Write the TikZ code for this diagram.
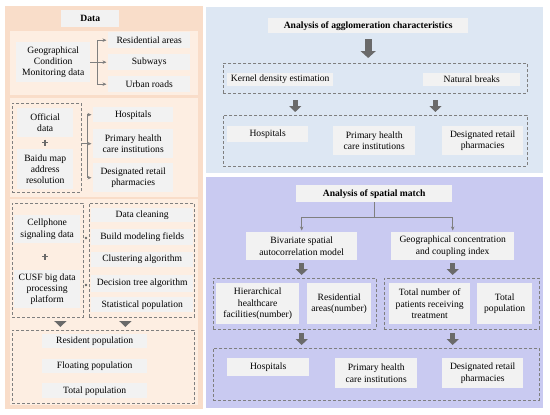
\documentclass[tikz,border=0pt]{standalone}
\usepackage{fontspec}
\setmainfont{Liberation Serif}
\usetikzlibrary{arrows.meta,calc}

\definecolor{peachout}{HTML}{F9DDC9}
\definecolor{peachin}{HTML}{FDEEE2}
\definecolor{boxgray}{HTML}{F2F2F2}
\definecolor{panelblue}{HTML}{DDE7F3}
\definecolor{panellav}{HTML}{C9CAF1}
\definecolor{linegray}{HTML}{7F7F7F}
\definecolor{arrgray}{HTML}{6A6A6A}

\tikzset{
  sz/.style 2 args={minimum width=#1pt, minimum height=#2pt},
  gbox/.style={fill=boxgray, anchor=north west, align=center, inner sep=0pt,
    font=\fontsize{9.6}{11.3}\selectfont},
  dashbox/.style={draw=linegray, dash pattern=on 3pt off 2pt, line width=0.8pt,
    anchor=north west, inner sep=0pt},
  arr/.style={draw=linegray, line width=0.6pt, shorten >=1.5pt,
    -{Stealth[length=4pt,width=3.5pt]}},
  bigarr/.style={draw=arrgray, line width=5pt, shorten <=3pt, shorten >=3pt,
    -{Triangle[length=6pt,width=12pt]}},
  plusmark/.style={draw=arrgray, line width=1.8pt},
  dot/.style={circle, fill=arrgray, inner sep=0pt, minimum size=2.6pt},
}

\begin{document}
\begin{tikzpicture}[x=1pt, y=-1pt]
  \useasboundingbox (0,0) rectangle (550,415);

  % Panels
  \fill[peachout] (5,6) rectangle (203,409);
  \fill[peachin] (10,31) rectangle (198,95);
  \fill[peachin] (10,98) rectangle (198,197);
  \fill[peachin] (10,199) rectangle (198,405);
  \fill[panelblue] (206,7) rectangle (543,173);
  \fill[panellav] (206,177) rectangle (543,408);

  % Data
  \node[gbox, sz={58}{17}, font=\bfseries\fontsize{9.6}{11}\selectfont] (data) at (61,10) {Data};

  % Geographical condition data
  \node[gbox, sz={74}{40}] (gcm) at (16,42) {Geographical\\Condition\\Monitoring data};
  \node[gbox, sz={82}{16}] (res) at (108,32) {Residential areas};
  \node[gbox, sz={82}{16}] (sub) at (108,54) {Subways};
  \node[gbox, sz={82}{16}] (road) at (108,76) {Urban roads};
  \draw[arr] (gcm.east) -- (sub.west);
  \coordinate (b1) at ($(gcm.east)+(7,0)$);
  \draw[arr] (b1) |- (res.west);
  \draw[arr] (b1) |- (road.west);

  % Official data
  \node[dashbox, sz={69}{89}] (dOff) at (12,103) {};
  \node[gbox, sz={56}{29}] (off) at (17,108) {Official\\data};
  \coordinate (plus1) at (45,142.5);
  \draw[plusmark] ($(plus1)+(-3,0)$) -- ++(6,0) ($(plus1)+(0,-3)$) -- ++(0,6);
  \node[gbox, sz={56}{40}] (baidu) at (17,149) {Baidu map\\address\\resolution};
  \node[gbox, sz={80}{15}] (hosp1) at (93,107) {Hospitals};
  \node[gbox, sz={80}{29}] (phc1) at (93,129) {Primary health\\care institutions};
  \node[gbox, sz={80}{29}] (drp1) at (93,163) {Designated retail\\pharmacies};
  \draw[arr] (dOff.east |- phc1.west) -- (phc1.west);
  \coordinate (b2) at ($(dOff.east |- phc1.west)+(5,0)$);
  \draw[arr] (b2) |- (hosp1.west);
  \draw[arr] (b2) |- (drp1.west);

  % Cellphone signaling data
  \node[dashbox, sz={71}{114}] (dA) at (12,203) {};
  \node[gbox, sz={66}{28}] (cell) at (14,215) {Cellphone\\signaling data};
  \coordinate (plus2) at (45,256.5);
  \draw[plusmark] ($(plus2)+(-3,0)$) -- ++(6,0) ($(plus2)+(0,-3)$) -- ++(0,6);
  \node[gbox, sz={66}{38}] (cusf) at (14,270) {CUSF big data\\processing\\platform};
  \node[dashbox, sz={105}{114}] (dB) at (89,203) {};
  \node[gbox, sz={102}{14}] (clean) at (91,208) {Data cleaning};
  \node[gbox, sz={102}{16}] (build) at (91,229) {Build modeling fields};
  \node[gbox, sz={102}{15}] (clust) at (91,252) {Clustering algorithm};
  \node[gbox, sz={102}{17}] (dtree) at (91,275) {Decision tree algorithm};
  \node[gbox, sz={102}{15}] (stat) at (91,297) {Statistical population};
  \node[dot] (m1) at (86,238) {};
  \node[dot] (m2) at (86,285) {};

  % Population
  \node[dashbox, sz={182}{73}] (dC) at (12,330) {};
  \node[gbox, sz={105}{14}] (resid) at (42,334) {Resident population};
  \node[gbox, sz={105}{14}] (float) at (42,359) {Floating population};
  \node[gbox, sz={105}{15}] (total) at (42,383) {Total population};
  \draw[bigarr] ([xshift=12.5pt]dA.south) -- ([xshift=12.5pt]dA.south |- dC.north);
  \draw[bigarr] ([xshift=-16.5pt]dB.south) -- ([xshift=-16.5pt]dB.south |- dC.north);

  % Analysis of agglomeration characteristics
  \node[gbox, sz={200}{15}, font=\bfseries\fontsize{9.6}{11}\selectfont] (t1) at (268,18)
    {Analysis of agglomeration characteristics};
  \node[dashbox, sz={304}{30}] (dD) at (223,63) {};
  \node[gbox, sz={106}{13}] (kde) at (227,73) {Kernel density estimation};
  \node[gbox, sz={97}{13}] (nb) at (423,73) {Natural breaks};
  \draw[bigarr, line width=7pt, shorten <=6pt, shorten >=5pt,
    -{Triangle[length=7pt,width=15pt]}] (t1.south) -- (t1.south |- dD.north);
  \node[dashbox, sz={304}{51}] (dE) at (223,115) {};
  \node[gbox, sz={81}{16}] (hosp2) at (227,126) {Hospitals};
  \node[gbox, sz={82}{29}] (phc2) at (333,126) {Primary health\\care institutions};
  \node[gbox, sz={81}{29}] (drp2) at (442,126) {Designated retail\\pharmacies};
  \coordinate (a1) at ($(dD.south west)!0.237!(dD.south east)$);
  \coordinate (a2) at ($(dD.south west)!0.697!(dD.south east)$);
  \draw[bigarr, shorten <=6pt] (a1) -- (a1 |- dE.north);
  \draw[bigarr, shorten <=6pt] (a2) -- (a2 |- dE.north);

  % Analysis of spatial match
  \node[gbox, sz={156}{17}, font=\bfseries\fontsize{9.6}{11}\selectfont] (t2) at (296,185)
    {Analysis of spatial match};
  \node[gbox, sz={111}{28}] (bsa) at (246,232) {Bivariate spatial\\autocorrelation model};
  \node[gbox, sz={123}{28}] (gci) at (391,232) {Geographical concentration\\and coupling index};
  \coordinate (b3) at ($(t2.south)+(0,15)$);
  \draw[linegray, line width=0.6pt] (t2.south) -- (b3);
  \draw[arr] (b3) -| (bsa.north);
  \draw[arr] (b3) -| (gci.north);

  \node[dashbox, sz={163}{51}] (dF) at (213,278) {};
  \node[gbox, sz={83}{41}] (hhf) at (216,283) {Hierarchical\\healthcare\\facilities(number)};
  \node[gbox, sz={64}{41}] (resn) at (307,283) {Residential\\areas(number)};
  \node[dashbox, sz={155}{51}] (dG) at (384,278) {};
  \node[gbox, sz={81}{41}] (tnp) at (389,283) {Total number of\\patients receiving\\treatment};
  \node[gbox, sz={55}{41}] (tpop) at (477,283) {Total\\population};
  \draw[bigarr] (bsa.south) -- (bsa.south |- dF.north);
  \draw[bigarr] (gci.south) -- (gci.south |- dG.north);

  \node[dashbox, sz={326}{52}] (dH) at (213,348) {};
  \node[gbox, sz={82}{18}] (hosp3) at (227,358) {Hospitals};
  \node[gbox, sz={82}{30}] (phc3) at (335,358) {Primary health\\care institutions};
  \node[gbox, sz={81}{30}] (drp3) at (442,358) {Designated retail\\pharmacies};
  \draw[bigarr] (bsa.south |- dF.south) -- (bsa.south |- dH.north);
  \draw[bigarr] (gci.south |- dG.south) -- (gci.south |- dH.north);
\end{tikzpicture}
\end{document}
